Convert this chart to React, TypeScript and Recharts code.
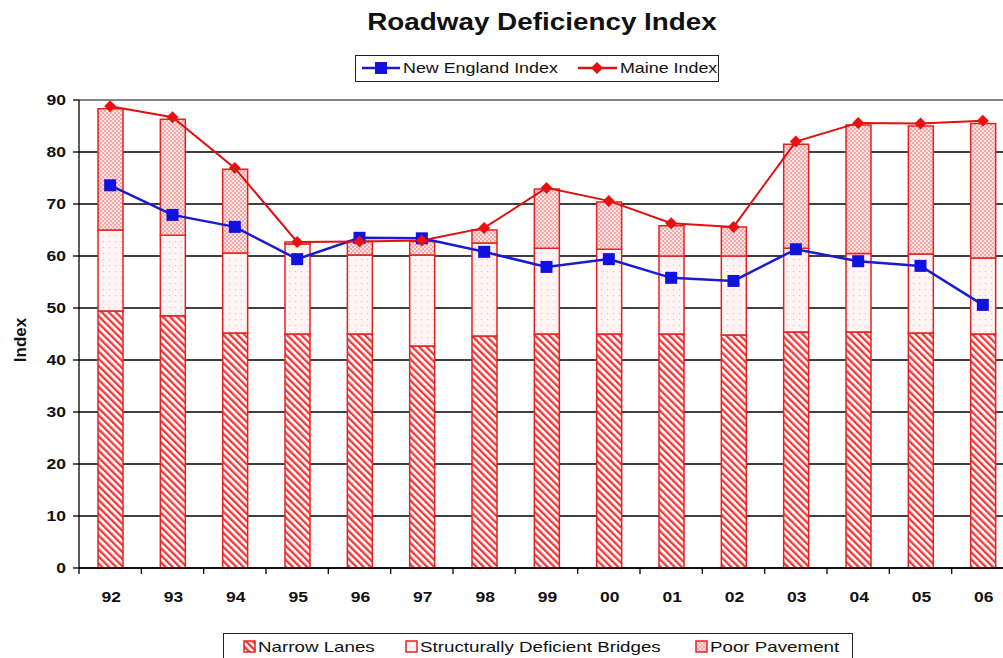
import React from "react";
import {
  ComposedChart,
  Bar,
  Line,
  XAxis,
  YAxis,
  CartesianGrid,
  ReferenceLine,
} from "recharts";

const years = ["92", "93", "94", "95", "96", "97", "98", "99", "00", "01", "02", "03", "04", "05", "06"];
const narrowLanes = [49.4, 48.5, 45.2, 45, 45, 42.7, 44.6, 45, 45, 45, 44.8, 45.4, 45.4, 45.2, 45];
const bridges = [15.6, 15.5, 15.4, 17.3, 15.2, 17.5, 17.9, 16.5, 16.3, 15, 15.2, 16.1, 15.1, 15.2, 14.6];
const pavement = [23.3, 22.3, 16.1, 0.4, 2.6, 2.6, 2.5, 11.4, 9.1, 5.8, 5.6, 20, 24.7, 24.6, 25.9];
const newEngland = [73.6, 67.9, 65.6, 59.4, 63.5, 63.4, 60.8, 57.9, 59.4, 55.8, 55.2, 61.3, 59, 58.1, 50.6];
const maine = [88.8, 86.7, 76.9, 62.7, 62.8, 63, 65.4, 73.1, 70.6, 66.3, 65.6, 82, 85.6, 85.5, 86];
const yTicks = [0, 10, 20, 30, 40, 50, 60, 70, 80, 90];

const data = years.map((year, i) => ({
  year,
  narrow: narrowLanes[i],
  bridges: bridges[i],
  pavement: pavement[i],
  ne: newEngland[i],
  maine: maine[i],
}));

const FONT = "'Liberation Sans', Arial, sans-serif";
const CHART_W = 1016;
const PLOT_W = CHART_W - 2 - 1 - 78;
const HALF_BAND = PLOT_W / years.length / 2;
const BAR_STROKE = "#e52222";

function Patterns({ prefix }: { prefix: string }) {
  return (
    <defs>
      <pattern id={prefix + "nl"} width="5" height="5" patternUnits="userSpaceOnUse" patternTransform="rotate(-45)">
        <rect width="5" height="5" fill="#fff" />
        <rect width="2.4" height="5" fill="#f03a3a" />
      </pattern>
      <pattern id={prefix + "sdb"} width="6" height="6" patternUnits="userSpaceOnUse">
        <rect width="6" height="6" fill="#fff3f3" />
        <circle cx="1.5" cy="1.5" r="0.6" fill="#f4a8a8" />
      </pattern>
      <pattern id={prefix + "pp"} width="4" height="4" patternUnits="userSpaceOnUse">
        <rect width="4" height="4" fill="#f5a8a8" />
        <circle cx="1" cy="1" r="0.9" fill="#fff" />
        <circle cx="3" cy="3" r="0.9" fill="#fff" />
      </pattern>
    </defs>
  );
}

const YTick = (props: any) => {
  const { x, y, payload } = props;
  return (
    <text
      transform={`translate(${x - 5},${y + 5}) scale(1.25,1)`}
      textAnchor="end"
      fontSize={14}
      fontWeight="bold"
      fontFamily={FONT}
      fill="#111"
    >
      {payload.value}
    </text>
  );
};

const XTick = (props: any) => {
  const { x, y, payload } = props;
  return (
    <g>
      <line x1={x - HALF_BAND} x2={x - HALF_BAND} y1={y} y2={y + 6} stroke="#000" strokeWidth={1.3} />
      <text
        transform={`translate(${x + 1},${y + 34}) scale(1.25,1)`}
        textAnchor="middle"
        fontSize={14}
        fontWeight="bold"
        fontFamily={FONT}
        fill="#111"
      >
        {payload.value}
      </text>
    </g>
  );
};

const squareDot = (p: any) => (
  <rect key={"ne" + p.index} x={p.cx - 6} y={p.cy - 6} width={12} height={12} fill="#1212e0" />
);

const diamondDot = (p: any) => (
  <polygon
    key={"me" + p.index}
    points={`${p.cx},${p.cy - 6} ${p.cx + 6},${p.cy} ${p.cx},${p.cy + 6} ${p.cx - 6},${p.cy}`}
    fill="#e81010"
  />
);

const textStyle: React.CSSProperties = {
  position: "absolute",
  fontSize: 15,
  lineHeight: "15px",
  whiteSpace: "nowrap",
  transform: "scaleX(1.25)",
  transformOrigin: "left top",
  color: "#111",
};

function Swatch({ left, fill }: { left: number; fill: string }) {
  return (
    <svg style={{ position: "absolute", left, top: 640 }} width={13} height={13}>
      <Patterns prefix="sw" />
      <rect x={1} y={1} width={11} height={11} fill={fill} stroke={BAR_STROKE} strokeWidth={1.5} />
    </svg>
  );
}

export default function App() {
  return (
    <div
      style={{
        position: "absolute",
        left: 0,
        top: 0,
        width: 1003,
        height: 658,
        overflow: "hidden",
        background: "#fff",
        fontFamily: FONT,
      }}
    >
      <div
        style={{
          position: "absolute",
          left: 542,
          top: 10,
          fontSize: 24,
          lineHeight: "24px",
          fontWeight: "bold",
          whiteSpace: "nowrap",
          transform: "translateX(-50%) scaleX(1.16)",
          color: "#111",
        }}
      >
        Roadway Deficiency Index
      </div>

      {/* top legend */}
      <div style={{ position: "absolute", left: 355, top: 55, width: 362, height: 25, border: "1.5px solid #222" }} />
      <svg style={{ position: "absolute", left: 360, top: 60 }} width={260} height={16}>
        <line x1={2} x2={40} y1={8} y2={8} stroke="#1a1ad0" strokeWidth={2.5} />
        <rect x={15} y={2} width={12} height={12} fill="#1212e0" />
        <line x1={218} x2={257} y1={8} y2={8} stroke="#e01010" strokeWidth={2.5} />
        <polygon points="237,2 243,8 237,14 231,8" fill="#e81010" />
      </svg>
      <div style={{ ...textStyle, left: 403, top: 60, transform: "scaleX(1.19)" }}>New England Index</div>
      <div style={{ ...textStyle, left: 620, top: 60, transform: "scaleX(1.19)" }}>Maine Index</div>

      {/* y axis title */}
      <div
        style={{
          position: "absolute",
          left: 20,
          top: 340,
          fontSize: 17,
          fontWeight: "bold",
          lineHeight: "17px",
          transform: "translate(-50%,-50%) rotate(-90deg)",
          color: "#111",
        }}
      >
        Index
      </div>

      <div style={{ position: "absolute", left: 0, top: 0 }}>
        <ComposedChart
          width={CHART_W}
          height={658}
          data={data}
          margin={{ top: 100, right: 2, bottom: 0, left: 1 }}
          barCategoryGap={0}
        >
          <Patterns prefix="ch" />
          <CartesianGrid vertical={false} stroke="#000" strokeWidth={1.3} />
          <ReferenceLine y={90} stroke="#9a9a9a" strokeWidth={1.5} />
          <XAxis
            dataKey="year"
            height={90}
            tickSize={0}
            tickMargin={0}
            interval={0}
            tick={<XTick />}
            axisLine={{ stroke: "#000", strokeWidth: 1.3 }}
          />
          <YAxis
            width={78}
            domain={[0, 90]}
            ticks={yTicks}
            tickSize={6}
            tick={<YTick />}
            tickLine={{ stroke: "#000", strokeWidth: 1.3 }}
            axisLine={{ stroke: "#000", strokeWidth: 1.3 }}
          />
          <Bar dataKey="narrow" stackId="a" barSize={25} fill="url(#chnl)" stroke={BAR_STROKE} strokeWidth={1.5} isAnimationActive={false} />
          <Bar dataKey="bridges" stackId="a" barSize={25} fill="url(#chsdb)" stroke={BAR_STROKE} strokeWidth={1.5} isAnimationActive={false} />
          <Bar dataKey="pavement" stackId="a" barSize={25} fill="url(#chpp)" stroke={BAR_STROKE} strokeWidth={1.5} isAnimationActive={false} />
          <Line dataKey="ne" stroke="#1a1ad0" strokeWidth={2.5} dot={squareDot} activeDot={false} isAnimationActive={false} />
          <Line dataKey="maine" stroke="#e01010" strokeWidth={2} dot={diamondDot} activeDot={false} isAnimationActive={false} />
        </ComposedChart>
      </div>

      {/* bottom legend */}
      <div style={{ position: "absolute", left: 223, top: 633, width: 628, height: 40, border: "1.5px solid #222" }} />
      <Swatch left={243} fill="url(#swnl)" />
      <div style={{ ...textStyle, left: 258, top: 639 }}>Narrow Lanes</div>
      <Swatch left={405} fill="url(#swsdb)" />
      <div style={{ ...textStyle, left: 420, top: 639 }}>Structurally Deficient Bridges</div>
      <Swatch left={695} fill="url(#swpp)" />
      <div style={{ ...textStyle, left: 710, top: 639 }}>Poor Pavement</div>
    </div>
  );
}
